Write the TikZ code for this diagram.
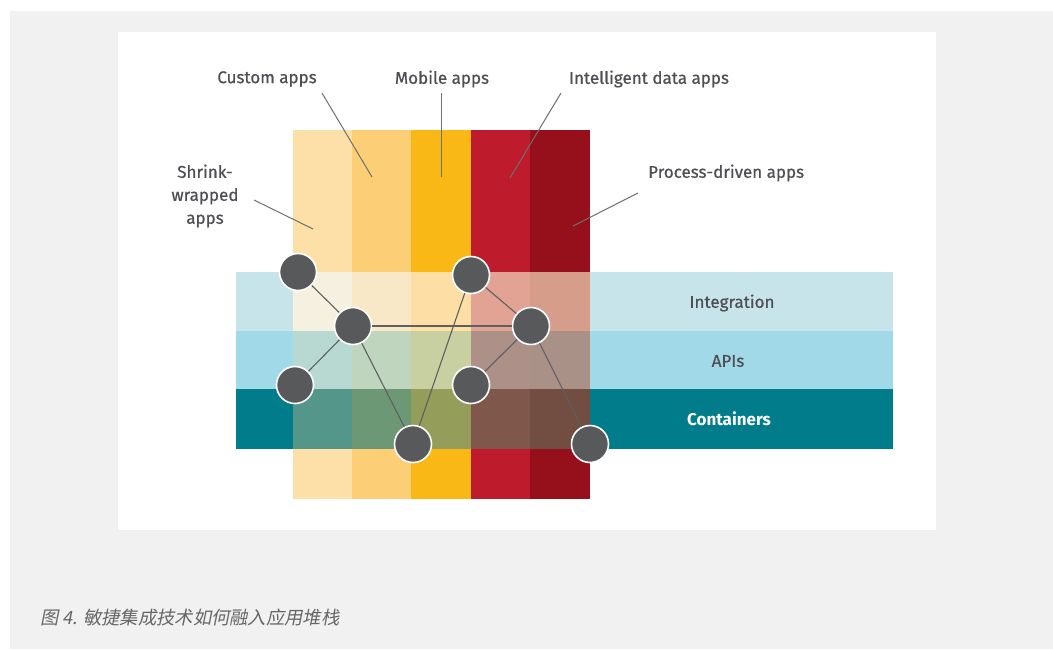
\documentclass[tikz,border=0pt]{standalone}
\usepackage{fontspec}
\setmainfont{Fira Sans}
\newfontfamily\lblfont[FakeBold=0.6]{Fira Sans}
\newfontfamily\cjk[FakeSlant=0.2]{Noto Sans CJK SC}
\usetikzlibrary{calc}

% colonnes
\definecolor{colA}{HTML}{FCE0A7}
\definecolor{colB}{HTML}{FCCE75}
\definecolor{colC}{HTML}{FAB816}
\definecolor{colD}{HTML}{BE1B2C}
\definecolor{colE}{HTML}{96101C}
% bandes
\definecolor{bandI}{HTML}{C8E4EB}
\definecolor{bandP}{HTML}{A1D9E8}
\definecolor{bandC}{HTML}{007C8A}
% croisements
\definecolor{cIA}{HTML}{F5F0E0}\definecolor{cIB}{HTML}{F9E8C8}\definecolor{cIC}{HTML}{FDDFA5}
\definecolor{cID}{HTML}{E2A394}\definecolor{cIE}{HTML}{D69D8B}
\definecolor{cPA}{HTML}{B8D8D2}\definecolor{cPB}{HTML}{C0D5BE}\definecolor{cPC}{HTML}{C8CFA0}
\definecolor{cPD}{HTML}{AD9087}\definecolor{cPE}{HTML}{AA9187}
\definecolor{cCA}{HTML}{54968A}\definecolor{cCB}{HTML}{6C9875}\definecolor{cCC}{HTML}{949D5A}
\definecolor{cCD}{HTML}{80584B}\definecolor{cCE}{HTML}{714D42}
\definecolor{pagegray}{HTML}{F1F1F1}
\definecolor{textgray}{HTML}{4D4F53}
\definecolor{dotgray}{HTML}{58595B}
\definecolor{linegray}{HTML}{5E5F61}
\definecolor{capgray}{HTML}{666666}

\tikzset{
	dot/.style={circle, fill=dotgray, draw=white, line width=1.6pt, minimum size=37pt, inner sep=0pt},
	link/.style={linegray, line width=1.1pt},
	lead/.style={linegray!90, line width=1pt},
	lbl/.style={text=textgray, font=\lblfont\fontsize{17}{23}\selectfont, inner sep=0pt}
}

\begin{document}
\begin{tikzpicture}[x=1pt, y=-1pt]
	\useasboundingbox (0,0) rectangle (1053,649);
	\fill[white] (0,0) rectangle (1053,649);
	\fill[pagegray] (10,11) rectangle (1053,649);
	\fill[white] (118,32) rectangle (936,530);
	
	% colonnes et bandes
	\foreach \c/\xa/\xb in {A/293/352, B/352/411, C/411/471, D/471/530, E/530/590}
		\fill[col\c] (\xa,130) rectangle (\xb,499);
	\foreach \r/\ya/\yb in {I/272/331, P/331/389, C/389/449}
		\fill[band\r] (236,\ya) rectangle (893,\yb);
	\foreach \r/\ya/\yb in {I/272/331, P/331/389, C/389/449}
		\foreach \c/\xa/\xb in {A/293/352, B/352/411, C/411/471, D/471/530, E/530/590}
			\fill[c\r\c] (\xa,\ya) rectangle (\xb,\yb);
	
	% textes des bandes
	\node[lbl] (integ) at (732,303) {Integration};
	\node[lbl] (apis) at (728,361) {APIs};
	\node[lbl, text=white, font=\fontsize{17}{20}\selectfont\bfseries] (contain) at (729,419) {Containers};
	
	% etiquettes
	\node[lbl] (custom) at (267,79) {Custom apps};
	\node[lbl] (mobile) at (442,79) {Mobile apps};
	\node[lbl] (intel) at (649,79) {Intelligent data apps};
	\node[lbl, anchor=west] (process) at (648,173) {Process-driven apps};
	\node[lbl, align=center] (shrink) at (205,196) {Shrink-\\wrapped\\apps};
	
	\coordinate (custom-a) at (322,93);   \coordinate (custom-b) at (372,177);
	\coordinate (mobile-a) at (441,93);   \coordinate (mobile-b) at (441,177);
	\coordinate (intel-a) at (561,93);    \coordinate (intel-b) at (510,178);
	\coordinate (process-a) at (638,193); \coordinate (process-b) at (573,226);
	\coordinate (shrink-a) at (254,200);  \coordinate (shrink-b) at (313,229);
	\foreach \n in {custom, mobile, intel, process, shrink}
		\draw[lead] (\n-a) -- (\n-b);
	
	% points
	\node[dot] (p1) at (298,272) {};
	\node[dot] (p2) at (353,326) {};
	\node[dot] (p3) at (295,385) {};
	\node[dot] (p4) at (413,444) {};
	\node[dot] (p5) at (471,275) {};
	\node[dot] (p6) at (531,326) {};
	\node[dot] (p7) at (471,385) {};
	\node[dot] (p8) at (590,444) {};
	
	% liens
	\foreach \a/\b in {p1/p2, p2/p3, p2/p4, p2/p6, p5/p4, p5/p6, p6/p7, p6/p8}
		\draw[link] (\a) -- (\b);
	
	% legende
	\node[anchor=west, text=capgray, font=\cjk\fontsize{18.3}{20}\selectfont, inner sep=0pt] (caption) at (40,618) {图 4. 敏捷集成技术如何融入应用堆栈};
\end{tikzpicture}
\end{document}
